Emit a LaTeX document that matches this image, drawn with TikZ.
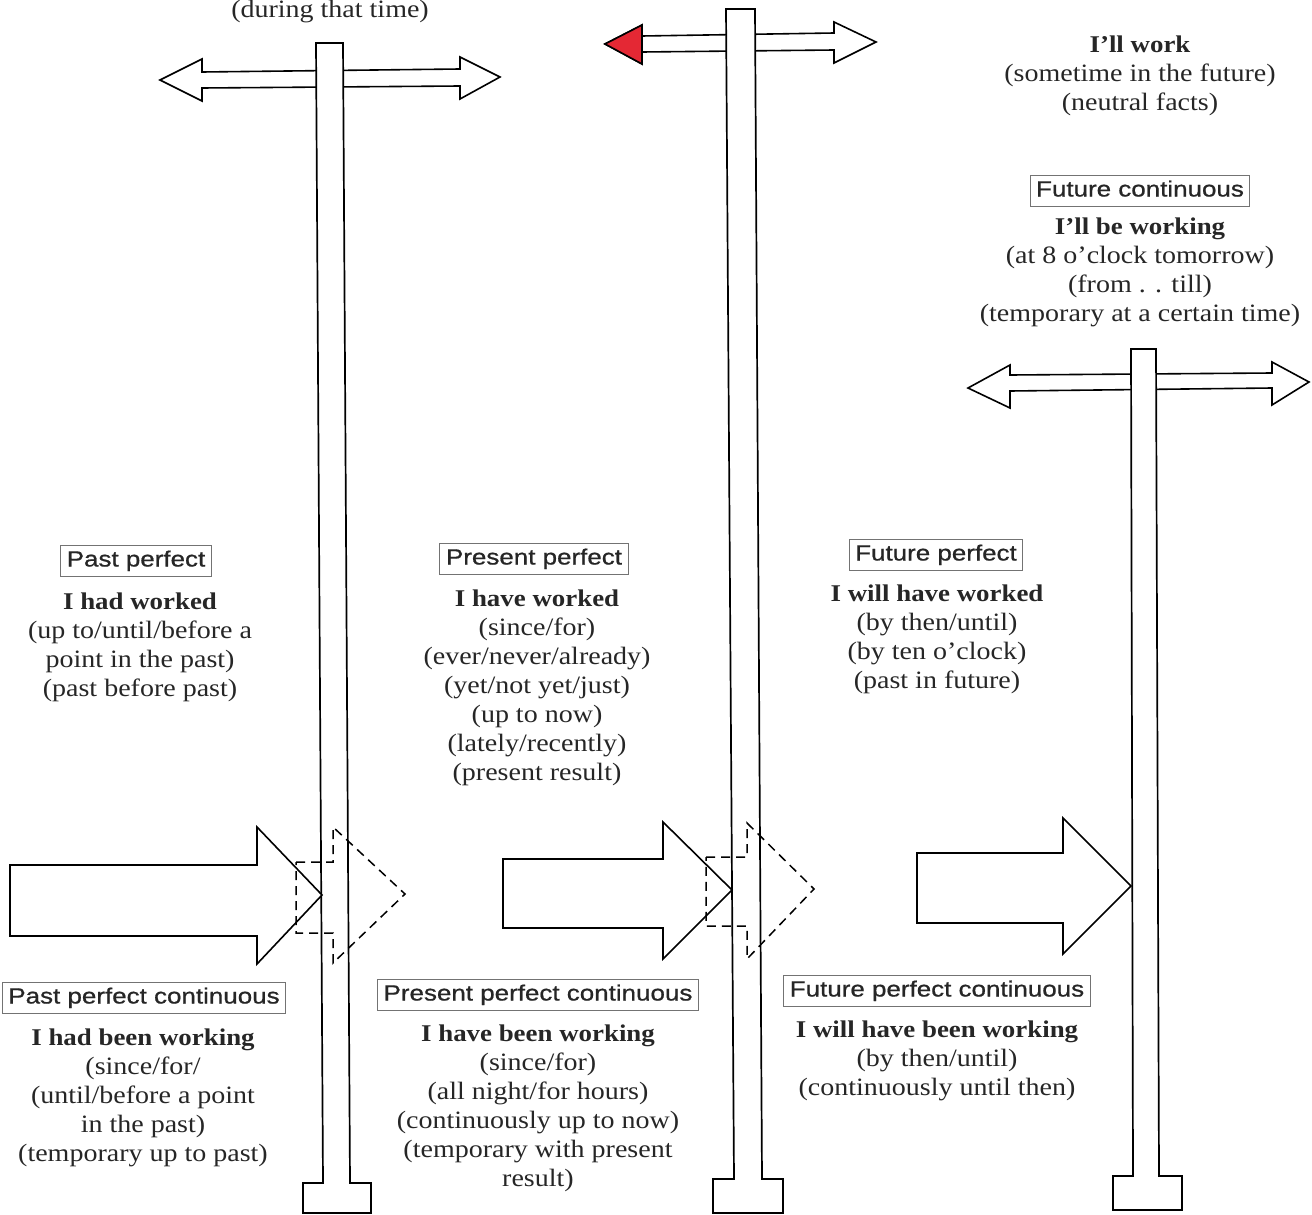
\documentclass[tikz,border=0pt]{standalone}
\usepackage{fontspec}
\setmainfont{Liberation Serif}[FakeStretch=1.12]
\newfontfamily\labelfont{Liberation Sans}[FakeStretch=1.18,FakeBold=0.8]
\definecolor{signred}{RGB}{228,40,52}
\newcommand\tenseform[1]{{\fontsize{24}{29}\selectfont\bfseries #1}}
\tikzset{
  tense/.style={draw=black!55, line width=1pt, inner xsep=6pt, inner ysep=5pt,
    text height=16pt, text depth=5pt, text=black!85, font=\labelfont\fontsize{22}{26}\selectfont},
  usage/.style={anchor=north, inner sep=0pt, align=center, text=black!85,
    font=\fontsize{25}{29}\selectfont},
  post/.style={draw, fill=white, line width=1.7pt, line join=miter},
  sign/.style={draw, fill=white, line width=1.6pt, line join=miter},
  ghost/.style={draw, dash pattern=on 9pt off 6pt, line width=1.5pt},
}
\begin{document}
\begin{tikzpicture}[x=1pt,y=-1pt]
  \useasboundingbox (0,0) rectangle (1312,1215);
  % double arrows on the posts
  \draw[sign](160,80)--(202,59)--(202,72)--(460,69)--(460,57)--(500,77)--(460,99)--(460,86)--(202,88)--(202,101)--cycle;
  \draw[sign](605,44)--(642,25)--(642,36)--(834,33)--(834,22)--(876,42)--(834,63)--(834,50)--(642,52)--(642,64)--cycle;
  \draw[sign,fill=signred](605,44)--(642,25)--(642,64)--cycle;
  \draw[sign](968,388)--(1010,365)--(1010,375)--(1272,373)--(1272,362)--(1309,382)--(1272,405)--(1272,388)--(1010,391)--(1010,408)--cycle;
  % posts
  \draw[post](323,1183)--(316,43)--(343,43)--(350,1183)--(371,1183)--(371,1213)--(303,1213)--(303,1183)--cycle;
  \draw[post](734,1179)--(726,9)--(755,9)--(762,1179)--(783,1179)--(783,1213)--(713,1213)--(713,1179)--cycle;
  \draw[post](1133,1176)--(1131,349)--(1156,349)--(1159,1176)--(1182,1176)--(1182,1210)--(1113,1210)--(1113,1176)--cycle;
  % block arrows
  \draw[sign](10,865)--(257,865)--(257,827)--(322,895)--(257,964)--(257,936)--(10,936)--cycle;
  \draw[ghost](296,862)--(333,862)--(333,827)--(405,894)--(333,963)--(333,933)--(296,933)--cycle;
  \draw[sign](503,859)--(663,859)--(663,822)--(732,890)--(663,959)--(663,928)--(503,928)--cycle;
  \draw[ghost](706,857)--(747,857)--(747,823)--(814,889)--(747,959)--(747,926)--(706,926)--cycle;
  \draw[sign](917,853)--(1063,853)--(1063,818)--(1131,886)--(1063,954)--(1063,923)--(917,923)--cycle;
  % labels
  \node[usage,anchor=center] (pastcont) at (330,12) {(during that time)};
  \node[usage] (futsimple) at (1140,36) {\tenseform{I’ll work}\\(sometime in the future)\\(neutral facts)};
  \node[tense] (futcontbox) at (1140,191) {Future continuous};
  \node[usage] (futcont) at (1140,218) {\tenseform{I’ll be working}\\(at 8 o’clock tomorrow)\\(from . . till)\\(temporary at a certain time)};
  \node[tense] (pastperfbox) at (136,561) {Past perfect};
  \node[usage] (pastperf) at (140,593) {\tenseform{I had worked}\\(up to/until/before a\\point in the past)\\(past before past)};
  \node[tense] (presperfbox) at (534,559) {Present perfect};
  \node[usage] (presperf) at (537,590) {\tenseform{I have worked}\\(since/for)\\(ever/never/already)\\(yet/not yet/just)\\(up to now)\\(lately/recently)\\(present result)};
  \node[tense] (futperfbox) at (936,555) {Future perfect};
  \node[usage] (futperf) at (937,585) {\tenseform{I will have worked}\\(by then/until)\\(by ten o’clock)\\(past in future)};
  \node[tense] (pastpcbox) at (144,998) {Past perfect continuous};
  \node[usage] (pastpc) at (143,1029) {\tenseform{I had been working}\\(since/for/\\(until/before a point\\in the past)\\(temporary up to past)};
  \node[tense] (prespcbox) at (538,995) {Present perfect continuous};
  \node[usage] (prespc) at (538,1025) {\tenseform{I have been working}\\(since/for)\\(all night/for hours)\\(continuously up to now)\\(temporary with present\\result)};
  \node[tense] (futpcbox) at (937,991) {Future perfect continuous};
  \node[usage] (futpc) at (937,1021) {\tenseform{I will have been working}\\(by then/until)\\(continuously until then)};
\end{tikzpicture}
\end{document}
